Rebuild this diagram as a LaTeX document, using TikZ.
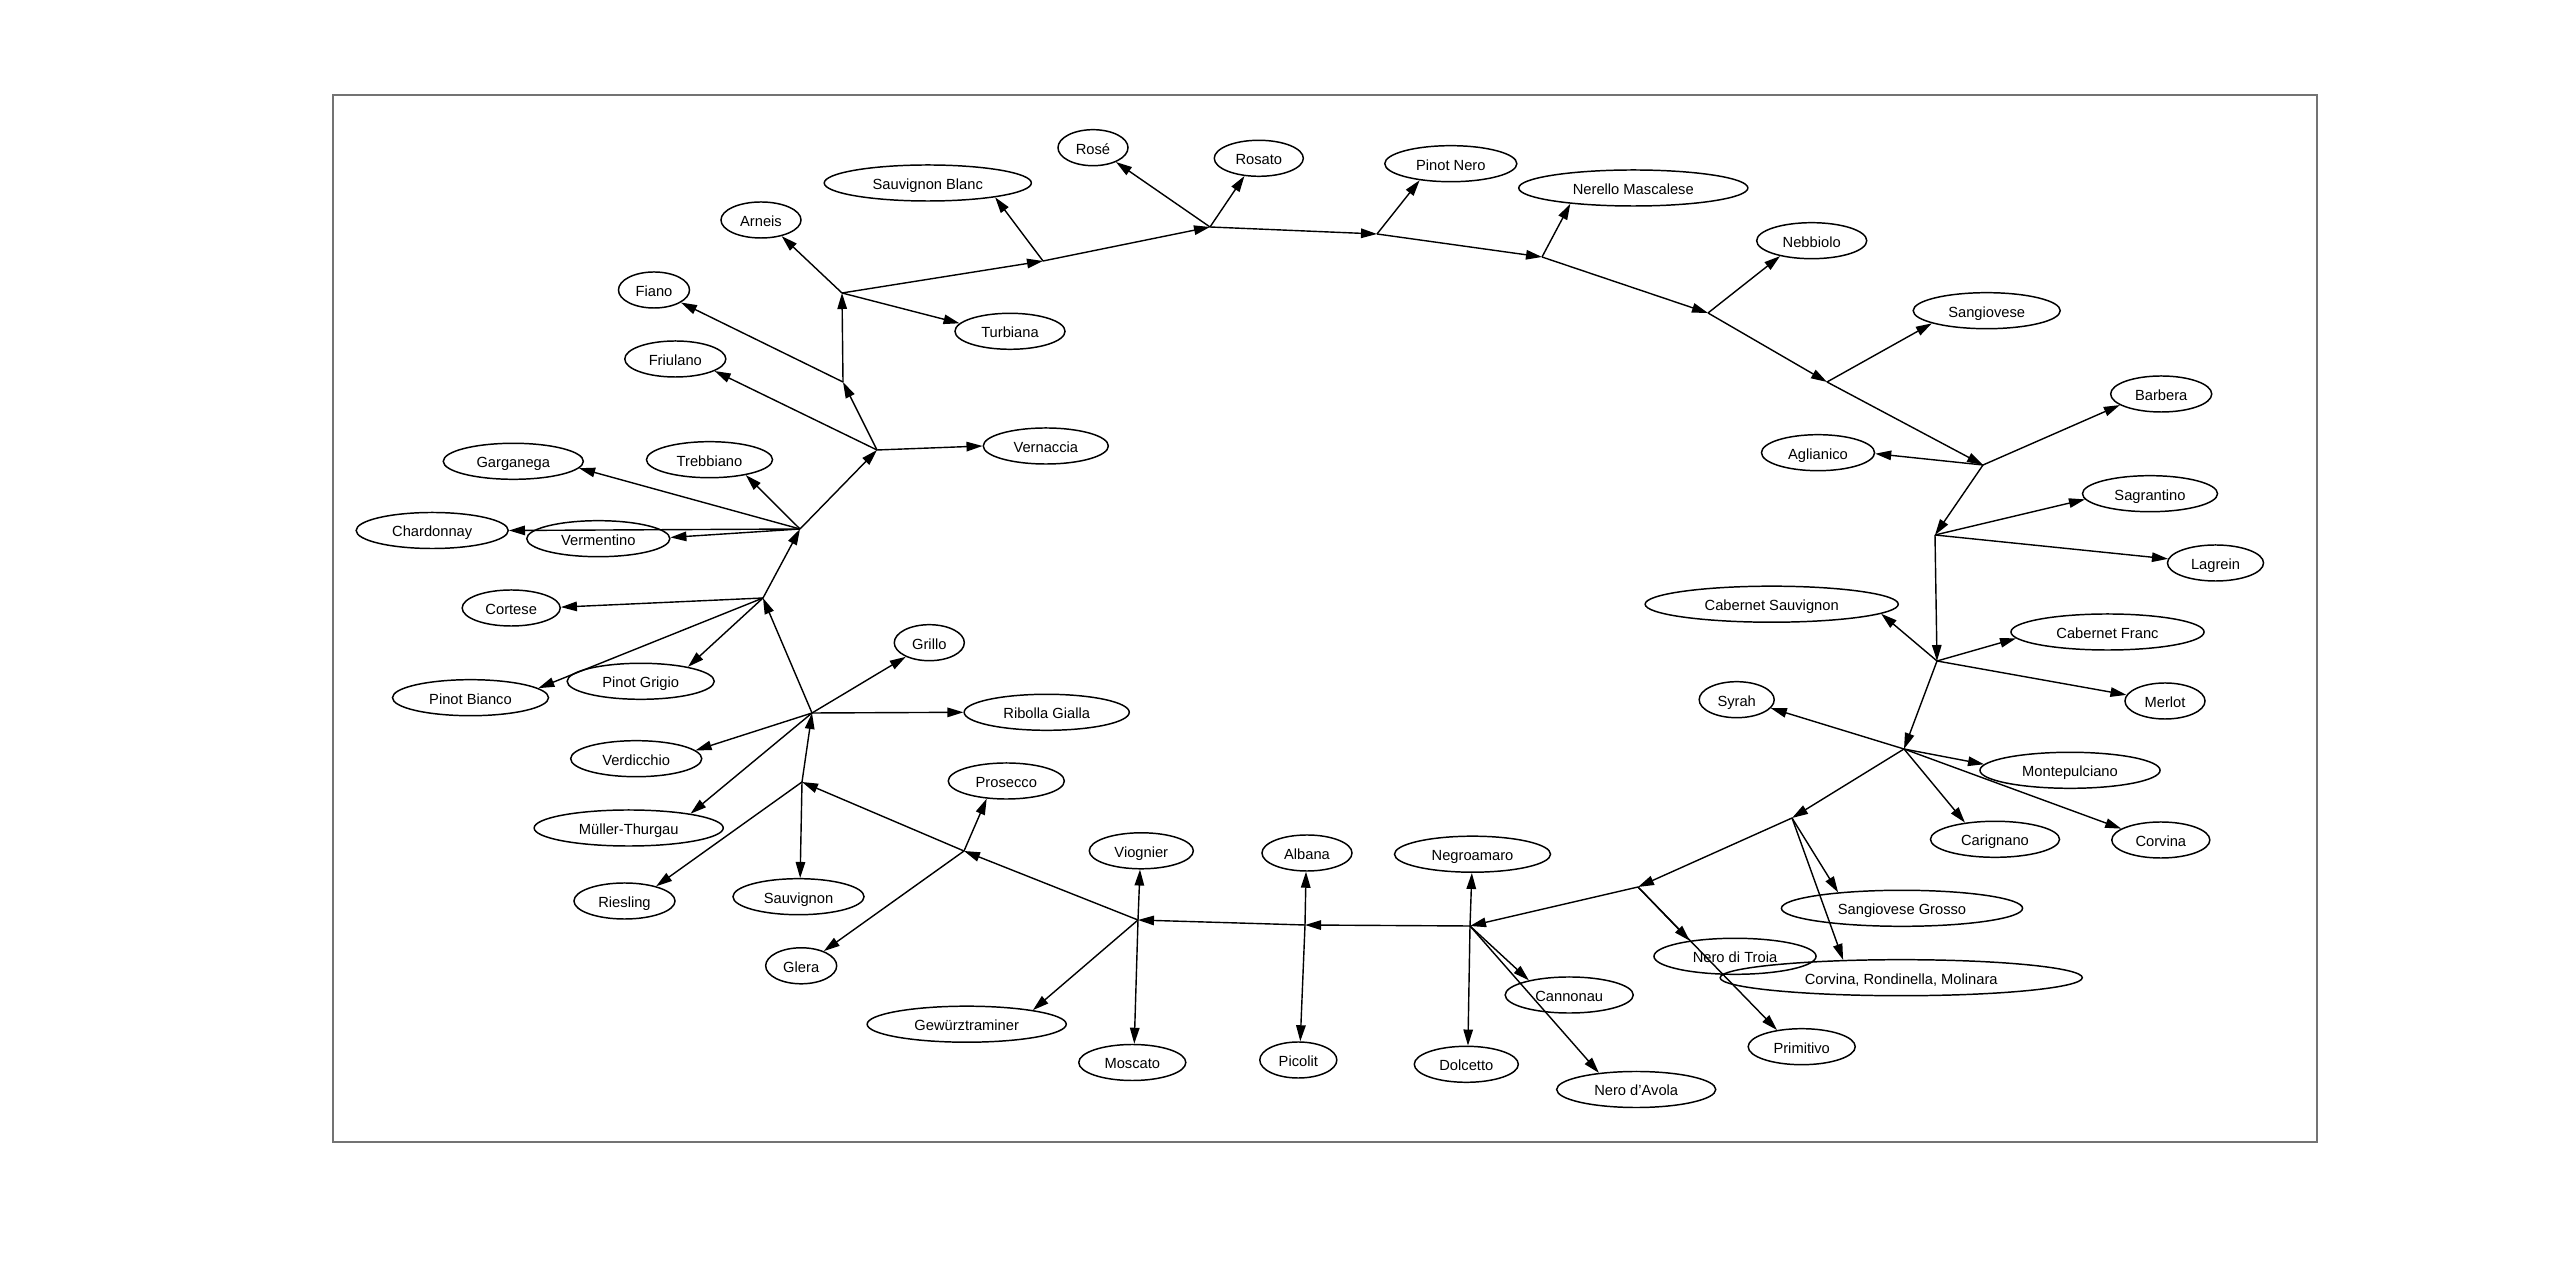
\documentclass[tikz,border=0pt]{standalone}
\usepackage{fontspec}
\setmainfont{Liberation Sans}
\usetikzlibrary{shapes.geometric,arrows.meta}
\begin{document}
\begin{tikzpicture}[x=0.01cm,y=-0.01cm,
  leaf/.style={ellipse, draw, line width=0.42pt, minimum height=0.36cm, inner sep=0pt,
    text height=3.6pt, text depth=0pt, font=\fontsize{4.18pt}{5pt}\selectfont},
  arr/.style={line width=0.4pt, -{Triangle[length=0.16cm,width=0.095cm]}}]
\useasboundingbox (0,0) rectangle (2560,1283);
\draw[line width=0.6pt, black!55] (333,95) rectangle (2317,1142);
% junctions
\coordinate (jA) at (1210,227);
\coordinate (jB) at (1377,234);
\coordinate (jC) at (1542,257);
\coordinate (jD) at (1708,313);
\coordinate (jE) at (1827,382);
\coordinate (jF) at (1983,465);
\coordinate (jG) at (1935,535);
\coordinate (jH) at (1937,661);
\coordinate (jI) at (1904,749);
\coordinate (jJ) at (1792,818);
\coordinate (jK) at (1638,887);
\coordinate (jL) at (1470,926);
\coordinate (jM) at (1305,925);
\coordinate (jN) at (1138,920);
\coordinate (jO) at (964,851);
\coordinate (jP) at (802,782);
\coordinate (jQ) at (812,713);
\coordinate (jR) at (763,598);
\coordinate (jS) at (800,529);
\coordinate (jT) at (877,450);
\coordinate (jU) at (843,382);
\coordinate (jV) at (842,293);
\coordinate (jW) at (1043,261);
% leaves
\node[leaf, minimum width=0.70cm] (rose) at (1093,147.7) {Rosé};
\node[leaf, minimum width=0.89cm] (rosato) at (1258.8,158.3) {Rosato};
\node[leaf, minimum width=2.07cm] (sblanc) at (927.8,183) {Sauvignon Blanc};
\node[leaf, minimum width=0.80cm] (arneis) at (761,220) {Arneis};
\node[leaf, minimum width=1.10cm] (turbiana) at (1010,331.3) {Turbiana};
\node[leaf, minimum width=0.71cm] (fiano) at (654,290) {Fiano};
\node[leaf, minimum width=1.01cm] (friulano) at (675.3,359) {Friulano};
\node[leaf, minimum width=1.25cm] (vernaccia) at (1045.8,446) {Vernaccia};
\node[leaf, minimum width=1.40cm] (garganega) at (513.3,461.3) {Garganega};
\node[leaf, minimum width=1.26cm] (trebbiano) at (709.5,459.7) {Trebbiano};
\node[leaf, minimum width=1.52cm] (chardonnay) at (432.2,530.5) {Chardonnay};
\node[leaf, minimum width=1.43cm] (vermentino) at (598.3,538.7) {Vermentino};
\node[leaf, minimum width=0.98cm] (cortese) at (511.2,608) {Cortese};
\node[leaf, minimum width=1.47cm] (pgrigio) at (640.7,681.3) {Pinot Grigio};
\node[leaf, minimum width=1.56cm] (pbianco) at (470.5,697.7) {Pinot Bianco};
\node[leaf, minimum width=1.31cm] (verdicchio) at (636.2,758.7) {Verdicchio};
\node[leaf, minimum width=0.70cm] (grillo) at (929.3,642.7) {Grillo};
\node[leaf, minimum width=1.65cm] (ribolla) at (1046.7,712.3) {Ribolla Gialla};
\node[leaf, minimum width=1.89cm] (muller) at (628.7,828) {Müller-Thurgau};
\node[leaf, minimum width=1.01cm] (riesling) at (624.5,901) {Riesling};
\node[leaf, minimum width=1.31cm] (sauvignon) at (798.5,896.7) {Sauvignon};
\node[leaf, minimum width=0.71cm] (glera) at (801.2,965.8) {Glera};
\node[leaf, minimum width=1.16cm] (prosecco) at (1006.3,781) {Prosecco};
\node[leaf, minimum width=1.99cm] (gewurz) at (966.7,1024.2) {Gewürztraminer};
\node[leaf, minimum width=1.04cm] (viognier) at (1141.3,850.8) {Viognier};
\node[leaf, minimum width=1.07cm] (moscato) at (1132.3,1062.5) {Moscato};
\node[leaf, minimum width=0.90cm] (albana) at (1307,853) {Albana};
\node[leaf, minimum width=0.77cm] (picolit) at (1298.3,1060) {Picolit};
\node[leaf, minimum width=1.56cm] (negroamaro) at (1472.5,854.2) {Negroamaro};
\node[leaf, minimum width=1.04cm] (dolcetto) at (1466.3,1064.3) {Dolcetto};
\node[leaf, minimum width=1.28cm] (cannonau) at (1569.2,995) {Cannonau};
\node[leaf, minimum width=1.59cm] (neroavola) at (1636.2,1089.5) {Nero d'Avola};
\node[leaf, minimum width=1.62cm] (nerotroia) at (1735,956.3) {Nero di Troia};
\node[leaf, minimum width=1.07cm] (primitivo) at (1801.7,1046.7) {Primitivo};
\node[leaf, minimum width=2.41cm] (sgrosso) at (1902,908.3) {Sangiovese Grosso};
\node[leaf, minimum width=3.62cm] (crm) at (1901.2,977.7) {Corvina, Rondinella, Molinara};
\node[leaf, minimum width=1.29cm] (carignano) at (1995,839.3) {Carignano};
\node[leaf, minimum width=0.98cm] (corvina) at (2160.8,840) {Corvina};
\node[leaf, minimum width=1.80cm] (montepulciano) at (2070,770.3) {Montepulciano};
\node[leaf, minimum width=0.75cm] (syrah) at (1736.7,699.7) {Syrah};
\node[leaf, minimum width=2.53cm] (cabsauv) at (1771.7,604.2) {Cabernet Sauvignon};
\node[leaf, minimum width=1.93cm] (cabfranc) at (2107.5,632) {Cabernet Franc};
\node[leaf, minimum width=0.80cm] (merlot) at (2165,701) {Merlot};
\node[leaf, minimum width=1.35cm] (sagrantino) at (2150,493.7) {Sagrantino};
\node[leaf, minimum width=0.96cm] (lagrein) at (2215.5,563) {Lagrein};
\node[leaf, minimum width=1.13cm] (aglianico) at (1818,452.7) {Aglianico};
\node[leaf, minimum width=1.01cm] (barbera) at (2161.2,394) {Barbera};
\node[leaf, minimum width=1.47cm] (sangiovese) at (1986.7,310.7) {Sangiovese};
\node[leaf, minimum width=1.10cm] (nebbiolo) at (1811.7,240.7) {Nebbiolo};
\node[leaf, minimum width=2.29cm] (nerello) at (1633.3,188) {Nerello Mascalese};
\node[leaf, minimum width=1.32cm] (pinotnero) at (1450.8,163.7) {Pinot Nero};
% junction chain
\draw[arr] (jV) -- (jW);
\draw[arr] (jW) -- (jA);
\draw[arr] (jA) -- (jB);
\draw[arr] (jB) -- (jC);
\draw[arr] (jC) -- (jD);
\draw[arr] (jD) -- (jE);
\draw[arr] (jE) -- (jF);
\draw[arr] (jF) -- (jG);
\draw[arr] (jG) -- (jH);
\draw[arr] (jH) -- (jI);
\draw[arr] (jI) -- (jJ);
\draw[arr] (jJ) -- (jK);
\draw[arr] (jK) -- (jL);
\draw[arr] (jL) -- (jM);
\draw[arr] (jM) -- (jN);
\draw[arr] (jN) -- (jO);
\draw[arr] (jO) -- (jP);
\draw[arr] (jP) -- (jQ);
\draw[arr] (jQ) -- (jR);
\draw[arr] (jR) -- (jS);
\draw[arr] (jS) -- (jT);
\draw[arr] (jT) -- (jU);
\draw[arr] (jU) -- (jV);
% leaf edges
\draw[arr] (jA) -- (rose.-32.5);
\draw[arr] (jA) -- (rosato.-129.2);
\draw[arr] (jW) -- (sblanc.-12.4);
\draw[arr] (jV) -- (arneis.-38.9);
\draw[arr] (jV) -- (turbiana.171.2);
\draw[arr] (jU) -- (fiano.-25.6);
\draw[arr] (jT) -- (friulano.-17.5);
\draw[arr] (jT) -- (vernaccia.180);
\draw[arr] (jS) -- (garganega.-6.1);
\draw[arr] (jS) -- (trebbiano.-23.3);
\draw[arr] (jS) -- (chardonnay.0.5);
\draw[arr] (jS) -- (vermentino.1.6);
\draw[arr] (jR) -- (cortese.1.5);
\draw[arr] (jR) -- (pgrigio.17.6);
\draw[arr] (jR) -- (pbianco.8.9);
\draw[arr] (jQ) -- (verdicchio.8.2);
\draw[arr] (jQ) -- (grillo.-149);
\draw[arr] (jQ) -- (ribolla.180);
\draw[arr] (jQ) -- (muller.13.5);
\draw[arr] (jP) -- (riesling.25);
\draw[arr] (jP) -- (sauvignon.85);
\draw[arr] (jO) -- (prosecco.-138.6);
\draw[arr] (jO) -- (glera.33.3);
\draw[arr] (jN) -- (viognier.-94);
\draw[arr] (jN) -- (moscato.84.5);
\draw[arr] (jN) -- (gewurz.12.7);
\draw[arr] (jM) -- (albana.-93);
\draw[arr] (jM) -- (picolit.84.7);
\draw[arr] (jL) -- (negroamaro.-92.5);
\draw[arr] (jL) -- (dolcetto.85.6);
\draw[arr] (jL) -- (cannonau.160);
\draw[arr] (jL) -- (neroavola.156.9);
\draw[arr] (jK) -- (nerotroia.161.5);
\draw[arr] (jK) -- (primitivo.146.3);
\draw[arr] (jJ) -- (sgrosso.166.1);
\draw[arr] (jJ) -- (crm.163.8);
\draw[arr] (jI) -- (carignano.151);
\draw[arr] (jI) -- (corvina.164);
\draw[arr] (jI) -- (montepulciano.176.6);
\draw[arr] (jI) -- (syrah.-14.5);
\draw[arr] (jH) -- (cabsauv.-5.7);
\draw[arr] (jH) -- (cabfranc.-176.7);
\draw[arr] (jH) -- (merlot.171);
\draw[arr] (jG) -- (sagrantino.-175);
\draw[arr] (jG) -- (lagrein.175.2);
\draw[arr] (jF) -- (aglianico.-1.6);
\draw[arr] (jF) -- (barbera.-165);
\draw[arr] (jE) -- (sangiovese.-167);
\draw[arr] (jD) -- (nebbiolo.-154.4);
\draw[arr] (jC) -- (nerello.-166.8);
\draw[arr] (jB) -- (pinotnero.-152.6);
\end{tikzpicture}
\end{document}
